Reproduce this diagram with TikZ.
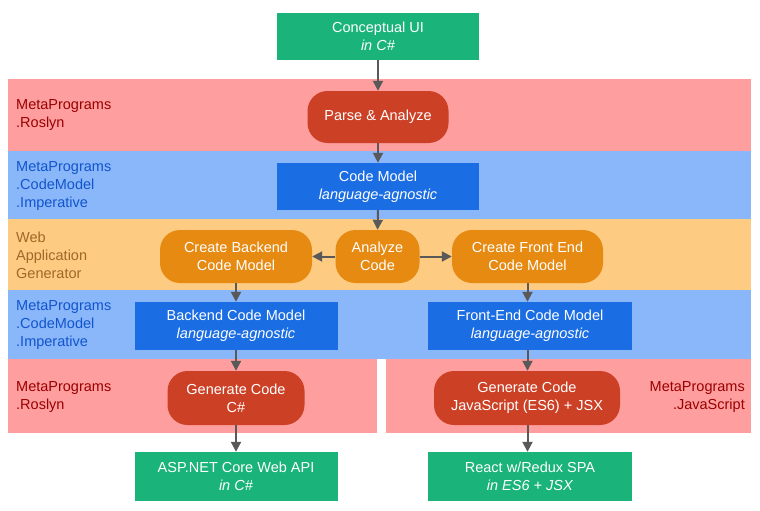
\documentclass[tikz,border=0pt]{standalone}
\usepackage{fontspec}
\setmainfont{Liberation Sans}
\usetikzlibrary{arrows.meta}
\definecolor{gfill}{HTML}{1AB47A}
\definecolor{rband}{HTML}{FF9E9E}
\definecolor{rnode}{HTML}{CC4125}
\definecolor{bband}{HTML}{8AB6FA}
\definecolor{bnode}{HTML}{1A6DE3}
\definecolor{oband}{HTML}{FDCB82}
\definecolor{onode}{HTML}{E68A12}
\definecolor{rtext}{HTML}{990000}
\definecolor{btext}{HTML}{1155CC}
\definecolor{otext}{HTML}{A06828}
\definecolor{arrgray}{HTML}{595959}
\tikzset{
  base/.style={inner sep=0pt, align=center, text=white, font=\fontsize{14.5}{18}\selectfont},
  greenbox/.style={base, fill=gfill},
  bluebox/.style={base, fill=bnode},
  redpill/.style={base, fill=rnode, rounded corners=20pt},
  orangepill/.style={base, fill=onode, rounded corners=20pt},
  lbl/.style={inner sep=0pt, align=left, font=\fontsize{14.5}{18}\selectfont},
  arr/.style={draw=arrgray, line width=2pt, -{Triangle[length=10pt,width=10pt]}},
}
\begin{document}
\begin{tikzpicture}[x=1pt,y=-1pt]
\useasboundingbox (0,0) rectangle (760,511);
% bands
\fill[rband] (8,79) rectangle (751,151);
\fill[bband] (8,151) rectangle (751,219);
\fill[oband] (8,219) rectangle (751,290);
\fill[bband] (8,290) rectangle (751,359);
\fill[rband] (8,359) rectangle (377,433);
\fill[rband] (386,359) rectangle (751,433);
% band labels
\node[lbl, text=rtext, anchor=west] (l1) at (16,115) {MetaPrograms\\.Roslyn};
\node[lbl, text=btext, anchor=west] (l2) at (16,186) {MetaPrograms\\.CodeModel\\.Imperative};
\node[lbl, text=otext, anchor=west] (l3) at (16,255) {Web\\Application\\Generator};
\node[lbl, text=btext, anchor=west] (l4) at (16,325) {MetaPrograms\\.CodeModel\\.Imperative};
\node[lbl, text=rtext, anchor=west] (l5) at (16,397) {MetaPrograms\\.Roslyn};
\node[lbl, text=rtext, anchor=east, align=right] (l6) at (745,397) {MetaPrograms\\.JavaScript};
% nodes
\node[greenbox, minimum width=202pt, minimum height=47pt] (cui) at (378,36.5) {Conceptual UI\\\textit{in C\#}};
\node[redpill, minimum width=141pt, minimum height=52pt] (parse) at (378,117) {Parse \& Analyze};
\node[bluebox, minimum width=202pt, minimum height=47pt] (cm) at (378,186.5) {Code Model\\\textit{language-agnostic}};
\node[orangepill, minimum width=152pt, minimum height=53pt] (cbe) at (236,256.5) {Create Backend\\Code Model};
\node[orangepill, minimum width=84pt, minimum height=53pt] (ac) at (377.5,256.5) {Analyze\\Code};
\node[orangepill, minimum width=151pt, minimum height=53pt] (cfe) at (527.5,256.5) {Create Front End\\Code Model};
\node[bluebox, minimum width=203pt, minimum height=48pt] (bcm) at (236,326) {Backend Code Model\\\textit{language-agnostic}};
\node[bluebox, minimum width=204pt, minimum height=48pt] (fcm) at (530,326) {Front-End Code Model\\\textit{language-agnostic}};
\node[redpill, minimum width=137pt, minimum height=54pt] (gcs) at (236,398) {Generate Code\\C\#};
\node[redpill, minimum width=186pt, minimum height=54pt] (gjs) at (527,398) {Generate Code\\JavaScript (ES6) + JSX};
\node[greenbox, minimum width=203pt, minimum height=49pt] (asp) at (236,476.5) {ASP.NET Core Web API\\\textit{in C\#}};
\node[greenbox, minimum width=204pt, minimum height=49pt] (react) at (530,476.5) {React w/Redux SPA\\\textit{in ES6 + JSX}};
% arrows
\draw[arr] (cui.south) -- (parse.north);
\draw[arr] (parse.south) -- (cm.north);
\draw[arr] (cm.south) -- (ac.north);
\draw[arr] (ac.west) -- (cbe.east);
\draw[arr] (ac.east) -- (cfe.east -| cfe.west);
\draw[arr] (cbe.south) -- (cbe.south |- bcm.north);
\draw[arr] (cfe.south) -- (cfe.south |- fcm.north);
\draw[arr] (bcm.south -| cbe.south) -- (cbe.south |- gcs.north);
\draw[arr] (fcm.south -| cfe.south) -- (cfe.south |- gjs.north);
\draw[arr] (gcs.south -| cbe.south) -- (cbe.south |- asp.north);
\draw[arr] (gjs.south -| cfe.south) -- (cfe.south |- react.north);
\end{tikzpicture}
\end{document}
